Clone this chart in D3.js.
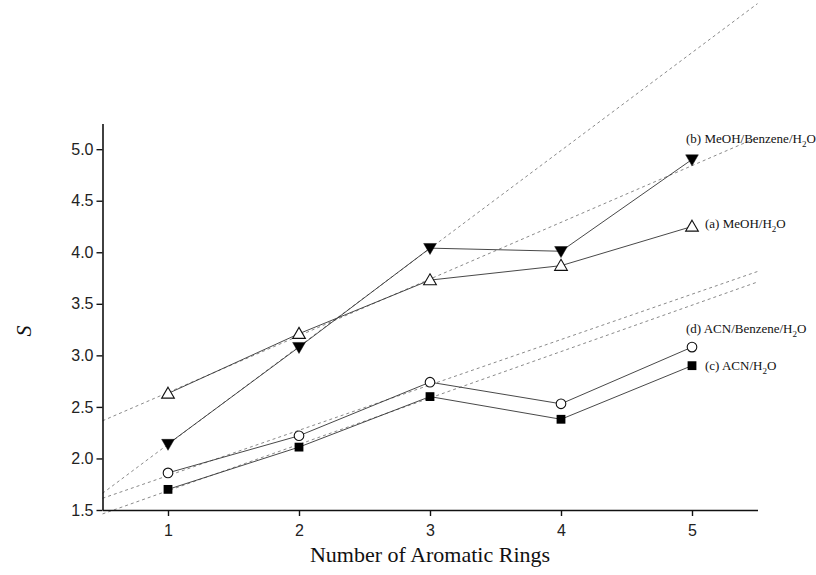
<!DOCTYPE html>
<html>
<head>
<meta charset="utf-8">
<script src="https://cdn.jsdelivr.net/npm/d3@7"></script>
<style>
	body { margin: 0; background: #fff; }
	.tick text { font-family: "Liberation Sans", Arial, sans-serif; font-size: 16px; fill: #222; }
	.label { font-family: "Liberation Serif", "Times New Roman", serif; font-size: 13px; fill: #111; }
	.title { font-family: "Liberation Serif", "Times New Roman", serif; font-size: 22px; fill: #111; }
</style>
</head>
<body>
<svg id="chart" width="816" height="575"></svg>
<script>
// number of aromatic rings
let rings = [1, 2, 3, 4, 5];

// S values per mobile phase
let meohWater = [2.63, 3.21, 3.73, 3.87, 4.25];        // (a) open triangles
let meohBenzWater = [2.14, 3.08, 4.04, 4.01, 4.90];    // (b) filled down triangles
let acnWater = [1.70, 2.11, 2.60, 2.38, 2.90];         // (c) filled squares
let acnBenzWater = [1.86, 2.22, 2.74, 2.53, 3.08];     // (d) open circles

let xTicks = [1, 2, 3, 4, 5];
let xMinor = [0.5, 1.5, 2.5, 3.5, 4.5, 5.5];
let yTicks = [1.5, 2.0, 2.5, 3.0, 3.5, 4.0, 4.5, 5.0];
let yMinor = [1.75, 2.25, 2.75, 3.25, 3.75, 4.25, 4.75, 5.25];

let svg = d3.select("#chart");

let x = d3.scaleLinear().domain([0.5, 5.5]).range([102.5, 757.5]);
let y = d3.scaleLinear().domain([1.5, 5.25]).range([510, 123.4]);

// least squares fit over the first three points (1-3 rings)
function fit(values) {
	let xs = rings.slice(0, 3), ys = values.slice(0, 3);
	let mx = d3.mean(xs), my = d3.mean(ys);
	let num = d3.sum(xs, (d, i) => (d - mx) * (ys[i] - my));
	let den = d3.sum(xs, d => (d - mx) * (d - mx));
	let slope = num / den;
	return t => my + slope * (t - mx);
}

let series = [
	{ values: meohWater, shape: "up", name: "(a) MeOH/H", tail: "O", lx: 705, ly: 228 },
	{ values: meohBenzWater, shape: "down", name: "(b) MeOH/Benzene/H", tail: "O", lx: 686, ly: 143 },
	{ values: acnWater, shape: "square", name: "(c) ACN/H", tail: "O", lx: 705, ly: 370 },
	{ values: acnBenzWater, shape: "circle", name: "(d) ACN/Benzene/H", tail: "O", lx: 686, ly: 333 }
];

// Dashed fit lines
series.forEach(function(s) {
	let f = fit(s.values);
	svg.append("line")
		.attr("x1", x(0.5)).attr("y1", y(f(0.5)))
		.attr("x2", x(5.5)).attr("y2", y(f(5.5)))
		.attr("stroke", "#8a8a8a")
		.attr("stroke-width", 1)
		.attr("stroke-dasharray", "3,3");
});

// Solid connecting lines
let line = d3.line().x(d => x(d[0])).y(d => y(d[1]));
series.forEach(function(s) {
	svg.append("path")
		.datum(d3.zip(rings, s.values))
		.attr("d", line)
		.attr("fill", "none")
		.attr("stroke", "#333")
		.attr("stroke-width", 0.9);
});

// Axes
let gx = svg.append("g").attr("transform", "translate(0,510)");
gx.call(d3.axisBottom(x).tickValues(xMinor).tickSize(3).tickFormat(""));
gx.call(d3.axisBottom(x).tickValues(xTicks).tickSize(6).tickSizeOuter(0).tickPadding(9).tickFormat(d3.format("d")));

let gy = svg.append("g").attr("transform", "translate(102.5,0)");
gy.call(d3.axisLeft(y).tickValues(yMinor).tickSize(3).tickFormat(""));
gy.call(d3.axisLeft(y).tickValues(yTicks).tickSize(6).tickSizeOuter(0).tickPadding(3).tickFormat(d3.format(".1f")));

svg.selectAll(".domain").attr("stroke", "#111").attr("stroke-width", 1.6);
svg.selectAll(".tick line").attr("stroke", "#111").attr("stroke-width", 1.4);

// Markers
let tri = d3.symbol().type(d3.symbolTriangle).size(70);
series.forEach(function(s) {
	let g = svg.append("g");
	let pts = d3.zip(rings, s.values);
	if (s.shape === "circle") {
		g.selectAll("circle").data(pts).enter().append("circle")
			.attr("cx", d => x(d[0])).attr("cy", d => y(d[1])).attr("r", 4.8)
			.attr("fill", "#fff").attr("stroke", "#111").attr("stroke-width", 1.1);
	} else if (s.shape === "square") {
		g.selectAll("rect").data(pts).enter().append("rect")
			.attr("x", d => x(d[0]) - 4.4).attr("y", d => y(d[1]) - 4.4)
			.attr("width", 8.8).attr("height", 8.8)
			.attr("fill", "#000");
	} else {
		let up = s.shape === "up";
		g.selectAll("path").data(pts).enter().append("path")
			.attr("d", tri)
			.attr("transform", d => "translate(" + x(d[0]) + "," + (y(d[1]) + (up ? 1 : -1)) + ")" + (up ? "" : " rotate(180)"))
			.attr("fill", up ? "#fff" : "#000")
			.attr("stroke", "#111").attr("stroke-width", up ? 1.1 : 0.5);
	}
});

// Series labels
series.forEach(function(s) {
	let t = svg.append("text").attr("class", "label").attr("x", s.lx).attr("y", s.ly);
	t.append("tspan").text(s.name);
	t.append("tspan").attr("font-size", "9px").attr("dy", 4).text("2");
	t.append("tspan").attr("dy", -4).text(s.tail);
});

// Axis titles
svg.append("text").attr("class", "title")
	.attr("x", x(3)).attr("y", 562)
	.attr("text-anchor", "middle")
	.text("Number of Aromatic Rings");

svg.append("text").attr("class", "title")
	.attr("transform", "translate(31,331) rotate(-90)")
	.attr("text-anchor", "middle")
	.attr("font-style", "italic")
	.text("S");
</script>
</body>
</html>
